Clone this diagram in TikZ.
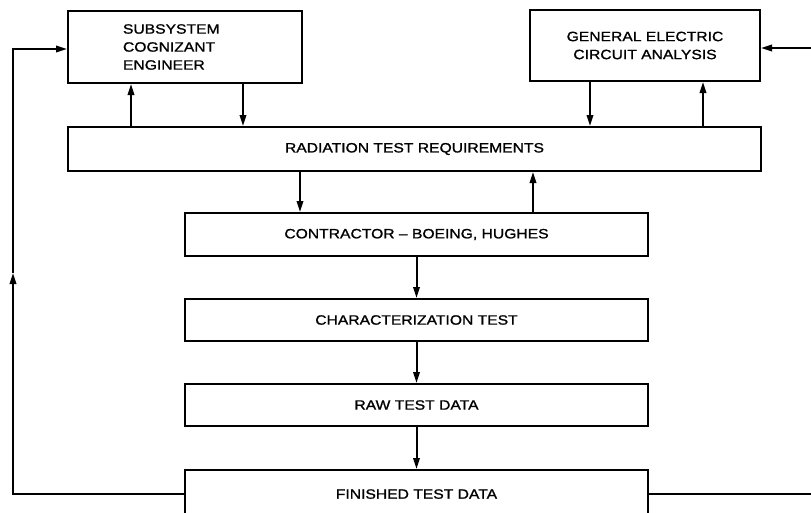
\documentclass[tikz,border=0pt]{standalone}
\usepackage{fontspec}
\setmainfont{Liberation Sans}[FakeStretch=1.16,FakeBold=1.2]
\usetikzlibrary{arrows.meta}
\begin{document}
\begin{tikzpicture}[x=1pt,y=-1pt,
  box/.style={draw, line width=2pt, inner sep=0pt, font=\fontsize{13.5}{18}\selectfont},
  arr/.style={line width=2pt, -{Triangle[length=11pt,width=6.5pt]}},
  ln/.style={line width=2pt}]
\useasboundingbox (0,0) rectangle (811,512);
\node[box, minimum width=234, minimum height=72, text width=124, align=left] (ss) at (185,47) {SUBSYSTEM\\COGNIZANT\\ENGINEER};
\node[box, minimum width=230, minimum height=71, align=center] (ge) at (645,45.5) {GENERAL ELECTRIC\\CIRCUIT ANALYSIS};
\node[box, minimum width=693, minimum height=44] (rad) at (414.5,149) {RADIATION TEST REQUIREMENTS};
\node[box, minimum width=463, minimum height=43] (con) at (416.5,234.5) {CONTRACTOR -- BOEING, HUGHES};
\node[box, minimum width=463, minimum height=42] (chr) at (416.5,320) {CHARACTERIZATION TEST};
\node[box, minimum width=463, minimum height=42] (raw) at (416.5,405) {RAW TEST DATA};
\node[box, minimum width=463, minimum height=48, text depth=0pt] (fin) at (416.5,494) {FINISHED TEST DATA};
% x positions of vertical connectors
\coordinate (xa) at (131,0);
\coordinate (xb) at (243,0);
\coordinate (xc) at (590,0);
\coordinate (xd) at (703,0);
\coordinate (xe) at (300,0);
\coordinate (xf) at (533,0);
\draw[arr] (xa |- rad.north) -- (xa |- ss.south);
\draw[arr] (xb |- ss.south) -- (xb |- rad.north);
\draw[arr] (xc |- ge.south) -- (xc |- rad.north);
\draw[arr] (xd |- rad.north) -- (xd |- ge.south);
\draw[arr] (xe |- rad.south) -- (xe |- con.north);
\draw[arr] (xf |- con.north) -- (xf |- rad.south);
\draw[arr] (con.south) -- (chr.north);
\draw[arr] (chr.south) -- (raw.north);
\draw[arr] (raw.south) -- (fin.north);
% feedback loops
\coordinate (lb) at (13,494);
\coordinate (lm) at (13,273);
\coordinate (lt) at (13,49);
\draw[arr] (fin.west) -- (lb) -- (lm);
\draw[arr] (lm) -- (lt) -- (lt -| ss.west);
\coordinate (rb) at (811,494);
\coordinate (rt) at (811,48);
\draw[ln] (fin.east) -- (rb);
\draw[arr] (rt) -- (rt -| ge.east);
\end{tikzpicture}
\end{document}
